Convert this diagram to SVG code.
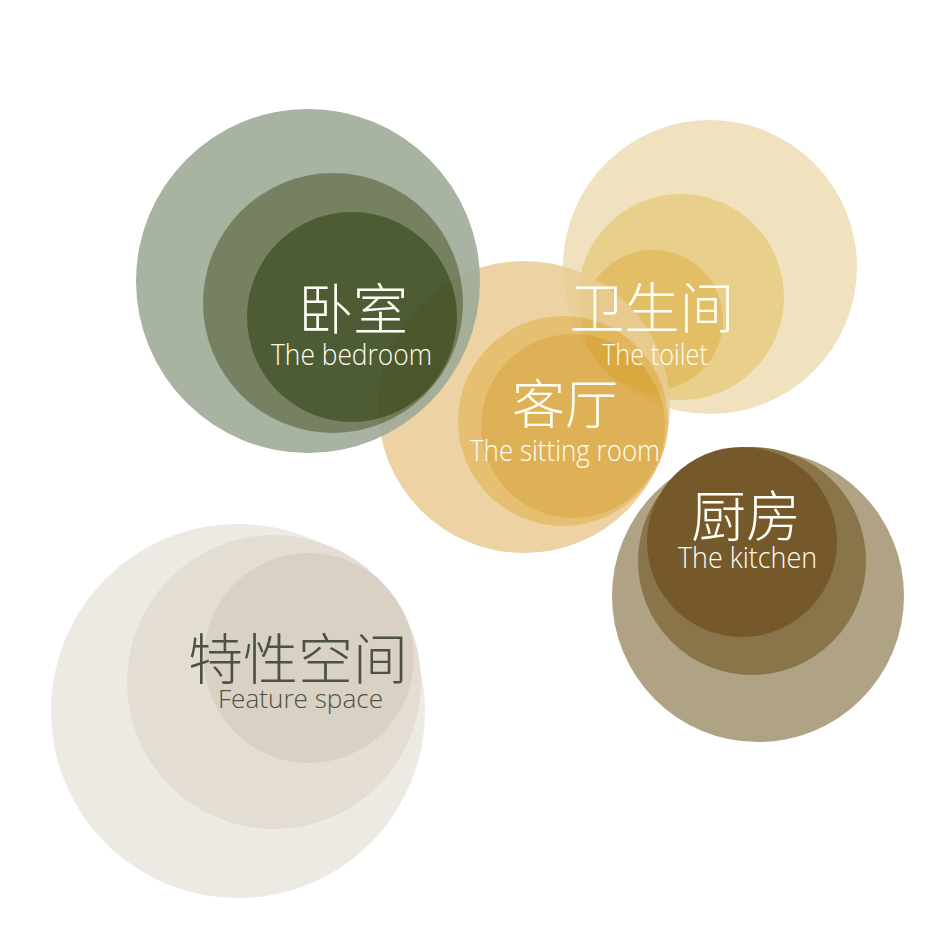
<svg xmlns="http://www.w3.org/2000/svg" width="940" height="940" viewBox="0 0 940 940">
<style>
.cn{font-family:"Noto Sans CJK SC","Noto Sans",sans-serif;font-weight:300;font-size:55px;text-anchor:middle}
.en{font-family:"Open Sans","Liberation Sans",sans-serif;font-weight:300;font-size:29px}
.lt{fill:#fffef4}
.dk{fill:#4b5242}
</style>
<rect width="940" height="940" fill="#ffffff"/>
<g id="kitchen">
  <g opacity="0.92">
    <circle cx="758" cy="596" r="146" fill="#aa9b7a"/>
    <circle cx="752" cy="561" r="114" fill="#81693a"/>
    <circle cx="742" cy="542" r="95" fill="#6a4c18"/>
  </g>
</g>
<g id="toilet">
  <g opacity="0.85">
    <circle cx="710" cy="267" r="147" fill="#eedeb4"/>
    <circle cx="681" cy="297" r="103" fill="#e5c778"/>
    <circle cx="653" cy="320" r="70" fill="#deb54d"/>
  </g>
</g>
<g id="sitting-room">
  <g opacity="0.85">
    <circle cx="524" cy="407" r="146" fill="#eacc94"/>
    <circle cx="563" cy="421" r="105" fill="#e2b55a"/>
    <circle cx="573" cy="426" r="92" fill="#d9a439"/>
  </g>
</g>
<g id="bedroom">
  <g opacity="0.9">
    <circle cx="308" cy="281" r="172" fill="#9fab98"/>
    <circle cx="333" cy="303" r="130" fill="#677451"/>
    <circle cx="352" cy="317" r="105" fill="#3b4b20"/>
  </g>
</g>
<g id="feature-space">
  <circle cx="238" cy="711" r="187" fill="#edeae4"/>
  <circle cx="274" cy="682" r="147" fill="#e3ddd3"/>
  <circle cx="309" cy="658" r="105" fill="#d9d1c4"/>
</g>
<g id="labels">
  <text class="cn lt" x="353" y="329">卧室</text>
  <text class="en lt" x="271" y="365" textLength="161" lengthAdjust="spacingAndGlyphs">The bedroom</text>
  <text class="cn lt" x="652" y="328">卫生间</text>
  <text class="en lt" x="602" y="365" textLength="106" lengthAdjust="spacingAndGlyphs">The toilet</text>
  <text class="cn lt" x="565" y="424" style="font-size:53px">客厅</text>
  <text class="en lt" x="470" y="461" textLength="190" lengthAdjust="spacingAndGlyphs">The sitting room</text>
  <text class="cn lt" x="746" y="536">厨房</text>
  <text class="en lt" x="678" y="568" textLength="139" lengthAdjust="spacingAndGlyphs">The kitchen</text>
  <text class="cn dk" x="298" y="679">特性空间</text>
  <text class="en dk" x="218" y="708" style="font-size:26px" textLength="165" lengthAdjust="spacingAndGlyphs">Feature space</text>
</g>
</svg>
